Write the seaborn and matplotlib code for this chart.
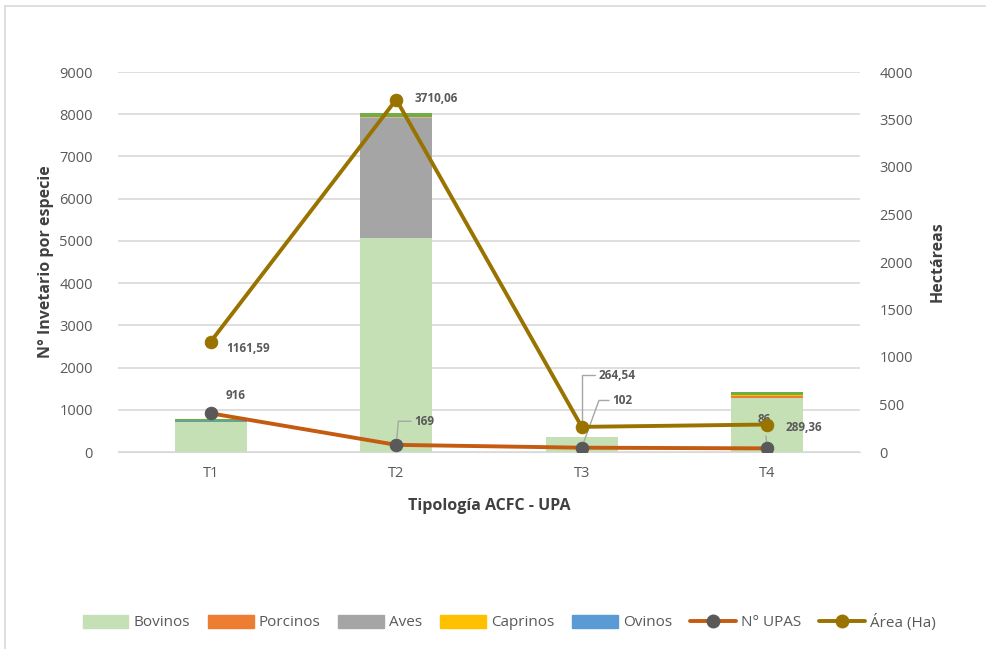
import matplotlib
matplotlib.use("Agg")
import matplotlib.pyplot as plt
from matplotlib.lines import Line2D
from matplotlib.patches import Patch, Rectangle
import numpy as np
import pandas as pd
import seaborn as sns

# ---------------------------------------------------------------------------
# Data
# ---------------------------------------------------------------------------
tipologias = ["T1", "T2", "T3", "T4"]

bovinos  = [700, 5070, 350, 1280]
porcinos = [5, 10, 2, 45]
aves     = [0, 2830, 0, 0]
caprinos = [15, 30, 3, 25]
ovinos   = [20, 10, 2, 5]
otros    = [45, 80, 3, 70]   # green cap, not in legend

n_upas = [916, 169, 102, 86]
area_ha = [1161.59, 3710.06, 264.54, 289.36]

# ---------------------------------------------------------------------------
# Styling
# ---------------------------------------------------------------------------
sns.set_style("white")
plt.rcParams["font.family"] = ["Open Sans", "DejaVu Sans"]

GRID  = "#D9D9D9"
TXT   = "#595959"
LBL   = "#404040"
series = [
    ("Bovinos",  bovinos,  "#C5E0B4"),
    ("Porcinos", porcinos, "#ED7D31"),
    ("Aves",     aves,     "#A5A5A5"),
    ("Caprinos", caprinos, "#FFC000"),
    ("Ovinos",   ovinos,   "#5B9BD5"),
    ("_otros",   otros,    "#70AD47"),
]
C_UPAS  = "#C55A11"
C_MARK  = "#595959"
C_AREA  = "#997300"

fig = plt.figure(figsize=(9.87, 6.49), dpi=100)
ax = fig.add_axes([118 / 987, 1 - 452 / 649, (860 - 118) / 987, (452 - 72) / 649])
ax2 = ax.twinx()

# outer chart border
fig.patches.append(Rectangle((5 / 987, -0.01), 1.0, 1 - 6 / 649 + 0.01,
                             transform=fig.transFigure, fill=False,
                             edgecolor="#D9D9D9", linewidth=1.2))

# stacked bars: draw cumulative totals from top layer down
cum = np.cumsum([s[1] for s in series], axis=0)
for i in range(len(series) - 1, -1, -1):
    df = pd.DataFrame({"tipo": tipologias, "val": cum[i]})
    sns.barplot(data=df, x="tipo", y="val", color=series[i][2], width=0.39,
                saturation=1, linewidth=0, edgecolor="none", ax=ax, zorder=2)

# N° UPAS on primary axis
df_u = pd.DataFrame({"tipo": tipologias, "val": n_upas})
sns.lineplot(data=df_u, x="tipo", y="val", ax=ax, color=C_UPAS, linewidth=2.8,
             marker="o", markersize=9, markerfacecolor=C_MARK,
             markeredgecolor=C_MARK, zorder=4)

# Area on secondary axis
df_a = pd.DataFrame({"tipo": tipologias, "val": area_ha})
sns.lineplot(data=df_a, x="tipo", y="val", ax=ax2, color=C_AREA, linewidth=2.8,
             marker="o", markersize=9, markerfacecolor=C_AREA,
             markeredgecolor=C_AREA, zorder=4)

# axes
ax.set_xlim(-0.5, 3.5)
ax.set_ylim(0, 9000)
ax.set_yticks(np.arange(0, 9001, 1000))
ax2.set_ylim(0, 4000)
ax2.set_yticks(np.arange(0, 4001, 500))
ax.yaxis.grid(True, color=GRID, linewidth=1.2, zorder=0)
ax.set_axisbelow(True)
for a in (ax, ax2):
    for sp in a.spines.values():
        sp.set_visible(False)
    a.tick_params(axis="both", length=0, labelsize=10.5, colors=TXT)
ax.spines["bottom"].set_visible(True)
ax.spines["bottom"].set_color(GRID)
ax.tick_params(axis="y", pad=18)
ax2.tick_params(axis="y", pad=14)
ax.tick_params(axis="x", pad=10)

ax.set_xlabel("Tipología ACFC - UPA", fontsize=11.5, fontweight="bold",
              color=LBL, labelpad=12)
ax.set_ylabel("N° Invetario por especie", fontsize=11.5, fontweight="bold",
              color=LBL, labelpad=4)
ax2.set_ylabel("Hectáreas", fontsize=11.5, fontweight="bold", color=LBL,
               labelpad=12)

# data labels
lab = dict(fontsize=8.5, fontweight="bold", color=TXT)
lead = dict(arrowstyle="-", color="#A6A6A6", linewidth=1, shrinkA=0, shrinkB=5)

ax.annotate("916", (0, n_upas[0]), xytext=(11, 13), textcoords="offset points",
            va="center", **lab)
ax.annotate("169", (1, n_upas[1]), xytext=(13, 17), textcoords="offset points",
            va="center", ha="left", **lab,
            arrowprops=dict(lead, connectionstyle="angle,angleA=0,angleB=85,rad=0"))
ax.annotate("102", (2, n_upas[2]), xytext=(22, 34), textcoords="offset points",
            va="center", ha="left", **lab,
            arrowprops=dict(lead, connectionstyle="angle,angleA=0,angleB=70,rad=0"))
ax.annotate("86", (3, n_upas[3]), xytext=(-7, 21), textcoords="offset points",
            va="center", ha="left", **lab,
            arrowprops=dict(lead, shrinkA=5))

ax2.annotate("1161,59", (0, area_ha[0]), xytext=(11, -5), textcoords="offset points",
             va="center", **lab)
ax2.annotate("3710,06", (1, area_ha[1]), xytext=(13, 1), textcoords="offset points",
             va="center", **lab)
ax2.annotate("264,54", (2, area_ha[2]), xytext=(12, 37), textcoords="offset points",
             va="center", ha="left", **lab,
             arrowprops=dict(lead, connectionstyle="angle,angleA=0,angleB=90,rad=0"))
ax2.annotate("289,36", (3, area_ha[3]), xytext=(13, -2), textcoords="offset points",
             va="center", **lab)

# legend
handles = [Patch(facecolor=c, edgecolor=c, label=n) for n, _, c in series if not n.startswith("_")]
handles.append(Line2D([], [], color=C_UPAS, linewidth=2.8, marker="o", markersize=9,
                      markerfacecolor=C_MARK, markeredgecolor=C_MARK, label="N° UPAS"))
handles.append(Line2D([], [], color=C_AREA, linewidth=2.8, marker="o", markersize=9,
                      markerfacecolor=C_AREA, markeredgecolor=C_AREA, label="Área (Ha)"))
fig.legend(handles=handles, loc="center", bbox_to_anchor=(509 / 987, 1 - 622 / 649),
           ncol=7, frameon=False, fontsize=11, labelcolor=TXT,
           handlelength=3.0, handleheight=0.9, columnspacing=1.2, handletextpad=0.3)

fig.savefig("out.png", dpi=100)
plt.close(fig)
